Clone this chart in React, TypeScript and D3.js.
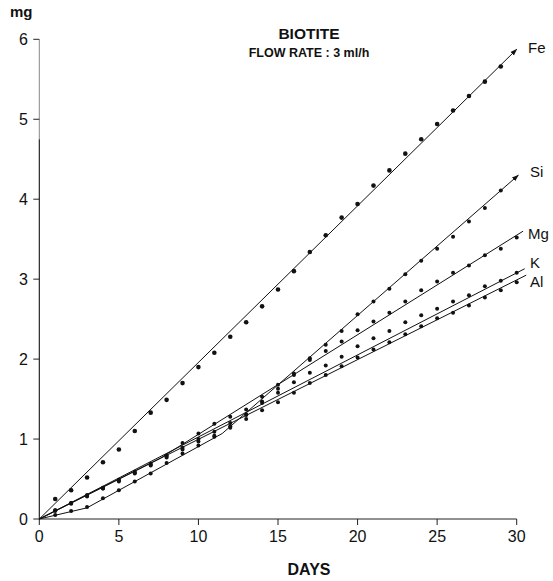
import * as d3 from "d3";

// days at which samples were collected
const days = [1, 2, 3, 4, 5, 6, 7, 8, 9, 10, 11, 12, 13, 14, 15, 16, 17, 18, 19, 20, 21, 22, 23, 24, 25, 26, 27, 28, 29, 30];

// cumulative mg released
const feValues = [0.25, 0.36, 0.52, 0.71, 0.87, 1.1, 1.33, 1.49, 1.7, 1.9, 2.08, 2.28, 2.46, 2.66, 2.87, 3.1, 3.34, 3.55, 3.77, 3.94, 4.17, 4.36, 4.57, 4.75, 4.94, 5.11, 5.29, 5.47, 5.66];
const siValues = [0.05, 0.1, 0.15, 0.26, 0.36, 0.47, 0.57, 0.7, 0.82, 0.92, 1.03, 1.16, 1.3, 1.47, 1.63, 1.8, 2.01, 2.18, 2.35, 2.56, 2.72, 2.88, 3.06, 3.23, 3.38, 3.53, 3.72, 3.89, 4.11];
const mgValues = [0.11, 0.2, 0.29, 0.38, 0.48, 0.58, 0.68, 0.79, 0.95, 1.07, 1.19, 1.28, 1.37, 1.53, 1.68, 1.82, 1.99, 2.1, 2.22, 2.36, 2.47, 2.58, 2.72, 2.86, 2.97, 3.08, 3.17, 3.3, 3.38, 3.52];
const kValues = [0.11, 0.2, 0.3, 0.39, 0.49, 0.59, 0.69, 0.79, 0.89, 1.0, 1.09, 1.2, 1.31, 1.45, 1.58, 1.71, 1.83, 1.92, 2.03, 2.16, 2.26, 2.35, 2.46, 2.55, 2.63, 2.72, 2.8, 2.91, 2.98, 3.08];
const alValues = [0.1, 0.19, 0.28, 0.38, 0.47, 0.57, 0.67, 0.77, 0.87, 0.97, 1.04, 1.14, 1.25, 1.36, 1.46, 1.58, 1.7, 1.8, 1.91, 2.02, 2.12, 2.21, 2.31, 2.41, 2.51, 2.58, 2.67, 2.77, 2.86, 2.96];

// hand-drawn fit lines (day, mg)
const feFit: [number, number][] = [[0, 0], [30, 5.875]];
const siFit: [number, number][] = [[0, 0], [3, 0.14], [11.5, 1.07], [30.1, 4.3]];
const mgFit: [number, number][] = [[0, 0], [7.6, 0.76], [30.4, 3.6]];
const kFit: [number, number][] = [[0, 0], [30.5, 3.13]];
const alFit: [number, number][] = [[0, 0], [30.6, 3.05]];

const series = [
  { name: "Fe", values: feValues, fit: feFit, arrow: true, r: 2.3 },
  { name: "Si", values: siValues, fit: siFit, arrow: true, r: 2 },
  { name: "Mg", values: mgValues, fit: mgFit, arrow: false, r: 2 },
  { name: "K", values: kValues, fit: kFit, arrow: false, r: 2 },
  { name: "Al", values: alValues, fit: alFit, arrow: false, r: 2 },
];

const xTicks = [0, 5, 10, 15, 20, 25, 30];
const yTicks = [0, 1, 2, 3, 4, 5, 6];

// label anchor positions next to line ends
const labelPos: Record<string, [number, number]> = {
  Fe: [528, 53],
  Si: [530, 177],
  Mg: [528, 239],
  K: [530, 268],
  Al: [530, 287],
};

export default function App() {
  const width = 553,
    height = 581;

  const x = d3.scaleLinear().domain([0, 30]).range([39.3, 516.7]);
  const y = d3.scaleLinear().domain([0, 6]).range([519, 39.3]);

  const line = d3
    .line<[number, number]>()
    .x((d) => x(d[0]))
    .y((d) => y(d[1]));

  const font = "'Liberation Sans', Arial, sans-serif";

  return (
    <svg
      width={width}
      height={height}
      style={{ position: "absolute", left: 0, top: 0, background: "#fff" }}
      fontFamily={font}
    >
      <defs>
        <marker
          id="arrow"
          viewBox="0 0 10 10"
          refX={9}
          refY={5}
          markerWidth={7}
          markerHeight={7}
          orient="auto"
        >
          <path d="M0,1.5 L10,5 L0,8.5 z" fill="#111" />
        </marker>
      </defs>

      {/* axes */}
      <line x1={x(0)} x2={x(0)} y1={y(6)} y2={y(4.75)} stroke="#888" strokeWidth={1} />
      <line x1={x(0)} x2={x(0)} y1={y(4.75)} y2={y(0)} stroke="#111" strokeWidth={1.1} />
      <line x1={x(0)} x2={x(30)} y1={y(0)} y2={y(0)} stroke="#222" strokeWidth={1} />

      {yTicks.map((t) => (
        <g key={"y" + t}>
          <line x1={x(0) - 6} x2={x(0)} y1={y(t)} y2={y(t)} stroke="#222" />
          <text x={28} y={y(t)} dy="0.36em" textAnchor="end" fontSize={16} fill="#111">
            {t}
          </text>
        </g>
      ))}
      {xTicks.map((t) => (
        <g key={"x" + t}>
          <line x1={x(t)} x2={x(t)} y1={y(0)} y2={y(0) + 6} stroke="#222" />
          <text x={x(t)} y={542} textAnchor="middle" fontSize={16} fill="#111">
            {t}
          </text>
        </g>
      ))}

      <text x={10} y={17} fontSize={15} fontWeight="bold" fill="#111">
        mg
      </text>
      <text x={309} y={575} textAnchor="middle" fontSize={16} fontWeight="bold" fill="#111">
        DAYS
      </text>
      <text x={309} y={39} textAnchor="middle" fontSize={15.5} fontWeight="bold" fill="#111">
        BIOTITE
      </text>
      <text x={309} y={57} textAnchor="middle" fontSize={12.5} fontWeight="bold" fill="#111">
        FLOW RATE : 3 ml/h
      </text>

      {series.map((s) => (
        <g key={s.name}>
          <path
            d={line(s.fit) || ""}
            fill="none"
            stroke="#111"
            strokeWidth={1}
            markerEnd={s.arrow ? "url(#arrow)" : undefined}
          />
          {s.values.map((v, i) => (
            <circle key={i} cx={x(days[i])} cy={y(v)} r={s.r} fill="#111" />
          ))}
          <text
            x={labelPos[s.name][0]}
            y={labelPos[s.name][1]}
            fontSize={15}
            fill="#111"
          >
            {s.name}
          </text>
        </g>
      ))}
    </svg>
  );
}
